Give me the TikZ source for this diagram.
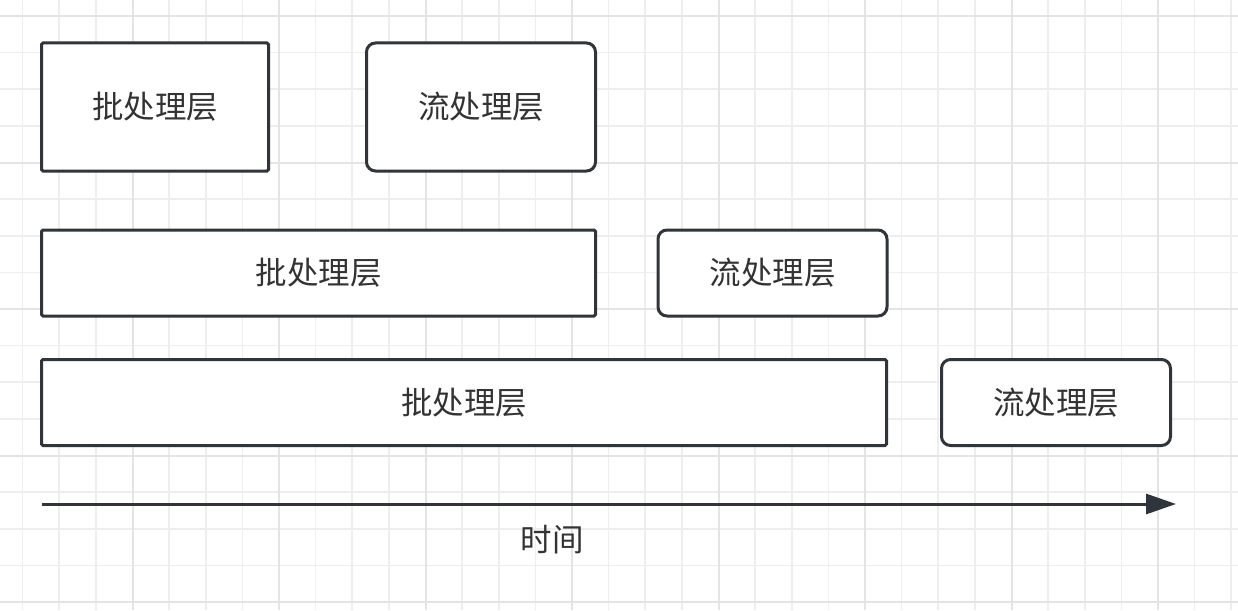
\documentclass[tikz,border=0pt]{standalone}
\usepackage{fontspec}
\setmainfont{Noto Sans CJK SC}
\usepackage{tikz}
\usetikzlibrary{positioning,arrows.meta}
\definecolor{layerink}{HTML}{2F353B}
\definecolor{labelgrey}{HTML}{333333}
\definecolor{gridminor}{HTML}{EEEEEE}
\definecolor{gridmajor}{HTML}{E4E4E4}

\begin{document}
\begin{tikzpicture}[
  x=1pt, y=-1pt,
  font=\fontsize{31.5}{36}\selectfont,
  text=labelgrey,
  batchbox/.style={draw=layerink, line width=3pt, rounded corners=1.5pt, fill=white, align=center, inner sep=0pt},
  streambox/.style={draw=layerink, line width=3pt, rounded corners=9pt, fill=white, align=center, inner sep=0pt, minimum width=229pt, minimum height=86pt},
  timearr/.style={-{Triangle[length=30pt, width=20pt]}, line width=3pt, color=layerink},
]
  \useasboundingbox[fill=white] (0,0) rectangle (1238,610);
  \clip (0,0) rectangle (1238,610);
  % background grid
  \foreach \k in {-4,...,32} {
    \draw[gridminor, line width=1.6pt] (132.5+36.625*\k,0) -- (132.5+36.625*\k,610);
  }
  \foreach \k in {-1,...,16} {
    \draw[gridminor, line width=1.6pt] (0,16+36.625*\k) -- (1238,16+36.625*\k);
  }
  \foreach \k in {-1,...,8} {
    \draw[gridmajor, line width=2pt] (132.5+146.5*\k,0) -- (132.5+146.5*\k,610);
    \draw[gridmajor, line width=2pt] (0,16+146.5*\k) -- (1238,16+146.5*\k);
  }

  \node[batchbox, minimum width=227pt, minimum height=128pt] (batch1) at (155,107) {批处理层};
  \node[streambox, minimum height=128pt] (stream1) at (481,107) {流处理层};
  \node[batchbox, minimum width=554pt, minimum height=86pt] (batch2) at (318.5,273) {批处理层};
  \node[streambox] (stream2) at (772.5,273) {流处理层};
  \node[batchbox, minimum width=845pt, minimum height=86pt] (batch3) at (464,402.5) {批处理层};
  \node[streambox] (stream3) at (1056,402.5) {流处理层};

  \coordinate (tstart) at (42,504);
  \coordinate (tend) at (1176,504);
  \draw[timearr] (tstart) -- (tend);
  \node (time) at (552,540) {时间};
\end{tikzpicture}
\end{document}
